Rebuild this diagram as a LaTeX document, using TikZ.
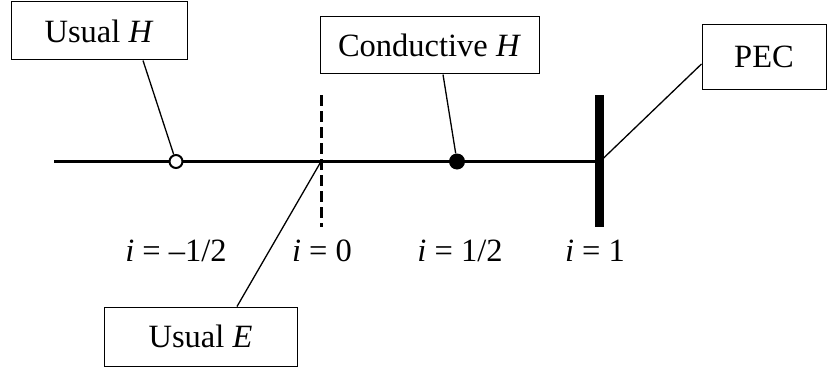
\documentclass[tikz,border=0pt]{standalone}
\usepackage{fontspec}
\setmainfont{Liberation Serif}
\usepackage{tikz}

\tikzset{
  labelbox/.style={draw, line width=1pt, inner sep=0pt, font=\fontsize{32.5}{38}\selectfont},
  gridlabel/.style={inner sep=0pt, font=\fontsize{32.5}{38}\selectfont},
  leader/.style={line width=1.3pt},
}

\begin{document}
\begin{tikzpicture}[x=1pt, y=-1pt]
  \useasboundingbox (0,0) rectangle (827,369);
  % the line, the interface and the wall
  \draw[line width=3pt] (54,161.5) -- (599,161.5);
  \draw[line width=3pt, dash pattern=on 11pt off 5pt] (321,95) -- (321,227);
  \draw[line width=9pt] (599.5,95) -- (599.5,227);
  \coordinate (e0) at (321,161.5);
  \coordinate (wall) at (600,161.5);
  % field points
  \node[circle, draw, line width=2pt, fill=white, inner sep=0pt, minimum size=13pt] (hm) at (176,161.5) {};
  \node[circle, fill=black, inner sep=0pt, minimum size=16pt] (hp) at (457,161.5) {};
  % boxes
  \node[labelbox, minimum width=176pt, minimum height=58pt] (uh) at (99,31) {Usual \textit{H}};
  \node[labelbox, minimum width=219pt, minimum height=57pt] (ch) at (429.5,45.5) {Conductive \textit{H}};
  \node[labelbox, minimum width=193pt, minimum height=59pt] (ue) at (200.5,336.5) {Usual \textit{E}};
  \node[labelbox, minimum width=124pt, minimum height=64pt] (pec) at (764,57) {PEC};
  % leaders
  \draw[leader] ([xshift=44pt]uh.south) -- (hm);
  \draw[leader] ([xshift=13.5pt]ch.south) -- (hp);
  \draw[leader] ([xshift=36.5pt]ue.north) -- (e0);
  \draw[leader] ([yshift=-7pt]pec.west) -- (wall);
  % indices
  \node[gridlabel] (lm) at (176,251) {\textit{i} = –1/2};
  \node[gridlabel] (l0) at (322,251) {\textit{i} = 0};
  \node[gridlabel] (lh) at (460,251) {\textit{i} = 1/2};
  \node[gridlabel] (l1) at (595,251) {\textit{i} = 1};
\end{tikzpicture}
\end{document}
